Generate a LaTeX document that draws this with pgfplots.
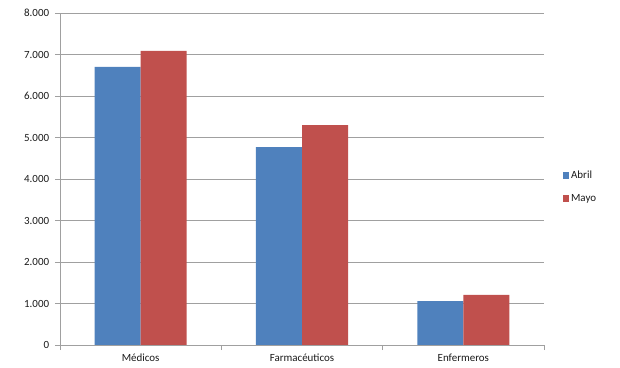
\documentclass[border=0pt]{standalone}
\usepackage{fontspec}
\setmainfont{Carlito}
\usepackage{pgfplots}
\pgfplotsset{compat=1.18}
\definecolor{abril}{HTML}{4F81BD}
\definecolor{mayo}{HTML}{C0504D}
\definecolor{gridc}{HTML}{A0A0A0}
\definecolor{txt}{HTML}{1A1A1A}
\begin{document}
\fontsize{11}{13}\selectfont
\begin{tikzpicture}
\begin{axis}[
 scale only axis, width=484bp, height=332bp,
 ybar=0pt, bar width=46bp,
 xmin=-0.5, xmax=2.5, ymin=0, ymax=8000,
 xtick={-0.5,0.5,1.5,2.5}, xticklabels={},
 extra x ticks={0,1,2},
 extra x tick labels={Médicos,Farmacéuticos,Enfermeros},
 extra x tick style={major tick length=0pt, grid=none},
 ytick={0,1000,...,8000},
 axis x line*=bottom, axis y line*=left,
 axis line style={gridc, -},
 ymajorgrids, major grid style={gridc, line width=0.9pt},
 tick style={gridc, line width=0.9pt},
 major tick length=5bp,
 tick align=outside,
 /pgf/number format/assume math mode=true,
 /pgf/number format/1000 sep={.},
 scaled y ticks=false,
 ticklabel style={font=\fontsize{11}{13}\selectfont, text=txt},
 yticklabel style={xshift=-2bp},
 xticklabel style={yshift=-5bp},
 legend style={at={(1.038,0.475)}, anchor=west, draw=none, fill=none,
   font=\fontsize{11}{13}\selectfont, text=txt, row sep=10bp, inner sep=0pt},
 legend cell align=left,
 legend image code/.code={\fill[#1,draw=none] (0bp,-3bp) rectangle (6.5bp,3.5bp);},
]
\addplot[fill=abril, draw=none] coordinates {(0,6700) (1,4770) (2,1060)};
\addplot[fill=mayo, draw=none] coordinates {(0,7090) (1,5300) (2,1205)};
\legend{Abril,Mayo}
\end{axis}
\path (current axis.south west) ++(-60bp,-23bp) rectangle ++(620bp,368bp);
\end{tikzpicture}
\end{document}
